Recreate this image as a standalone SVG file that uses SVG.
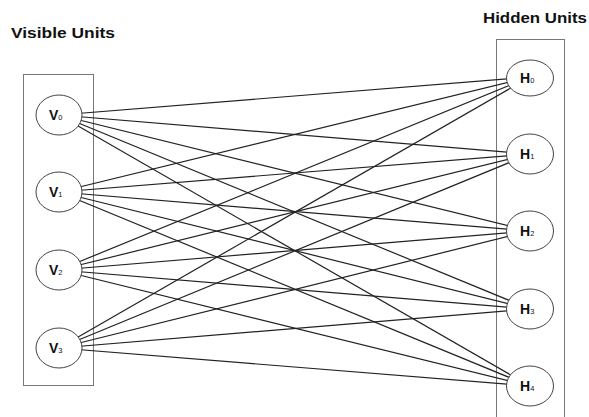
<svg xmlns="http://www.w3.org/2000/svg" width="589" height="417" viewBox="0 0 589 417">
<style>
.title{font-family:"Liberation Sans",Arial,sans-serif;font-weight:bold;font-size:15px;fill:#111}
.box{fill:none;stroke:#777;stroke-width:1}
.unit{fill:#fff;stroke:#444;stroke-width:1}
.lbl{font-family:"Liberation Sans",Arial,sans-serif;font-weight:bold;font-size:14px;fill:#111}
.sub{font-size:7.5px;font-weight:normal}
#connectors line{stroke:#222;stroke-width:1.2}
</style>
<rect width="589" height="417" fill="#fff"/>
<text class="title" x="11" y="38" textLength="104" lengthAdjust="spacingAndGlyphs">Visible Units</text>
<text class="title" x="483" y="23" textLength="104" lengthAdjust="spacingAndGlyphs">Hidden Units</text>
<rect id="visible-layer" class="box" x="23.5" y="74.5" width="70" height="311"/>
<rect id="hidden-layer" class="box" x="496.5" y="39.5" width="68" height="378"/>
<g id="connectors">
<line x1="59" y1="115" x2="530" y2="77"/><line x1="59" y1="115" x2="530" y2="154"/><line x1="59" y1="115" x2="530" y2="231"/><line x1="59" y1="115" x2="530" y2="309"/><line x1="59" y1="115" x2="530" y2="386"/>
<line x1="59" y1="192" x2="530" y2="77"/><line x1="59" y1="192" x2="530" y2="154"/><line x1="59" y1="192" x2="530" y2="231"/><line x1="59" y1="192" x2="530" y2="309"/><line x1="59" y1="192" x2="530" y2="386"/>
<line x1="59" y1="270" x2="530" y2="77"/><line x1="59" y1="270" x2="530" y2="154"/><line x1="59" y1="270" x2="530" y2="231"/><line x1="59" y1="270" x2="530" y2="309"/><line x1="59" y1="270" x2="530" y2="386"/>
<line x1="59" y1="348" x2="530" y2="77"/><line x1="59" y1="348" x2="530" y2="154"/><line x1="59" y1="348" x2="530" y2="231"/><line x1="59" y1="348" x2="530" y2="309"/><line x1="59" y1="348" x2="530" y2="386"/>
</g>
<g id="V0"><ellipse class="unit" cx="59" cy="115" rx="23" ry="20"/><text class="lbl" x="49" y="120">V<tspan class="sub">0</tspan></text></g>
<g id="V1"><ellipse class="unit" cx="59" cy="192" rx="23" ry="20"/><text class="lbl" x="49" y="197">V<tspan class="sub">1</tspan></text></g>
<g id="V2"><ellipse class="unit" cx="59" cy="270" rx="23" ry="20"/><text class="lbl" x="49" y="275">V<tspan class="sub">2</tspan></text></g>
<g id="V3"><ellipse class="unit" cx="59" cy="348" rx="23" ry="20"/><text class="lbl" x="49" y="353">V<tspan class="sub">3</tspan></text></g>
<g id="H0"><ellipse class="unit" cx="530" cy="78" rx="23.5" ry="18"/><text class="lbl" x="520" y="83">H<tspan class="sub">0</tspan></text></g>
<g id="H1"><ellipse class="unit" cx="530" cy="154" rx="23.5" ry="20"/><text class="lbl" x="520" y="159">H<tspan class="sub">1</tspan></text></g>
<g id="H2"><ellipse class="unit" cx="530" cy="231" rx="23.5" ry="20"/><text class="lbl" x="520" y="236">H<tspan class="sub">2</tspan></text></g>
<g id="H3"><ellipse class="unit" cx="530" cy="309" rx="23.5" ry="20"/><text class="lbl" x="520" y="314">H<tspan class="sub">3</tspan></text></g>
<g id="H4"><ellipse class="unit" cx="530" cy="386" rx="23.5" ry="20"/><text class="lbl" x="520" y="391">H<tspan class="sub">4</tspan></text></g>
</svg>
